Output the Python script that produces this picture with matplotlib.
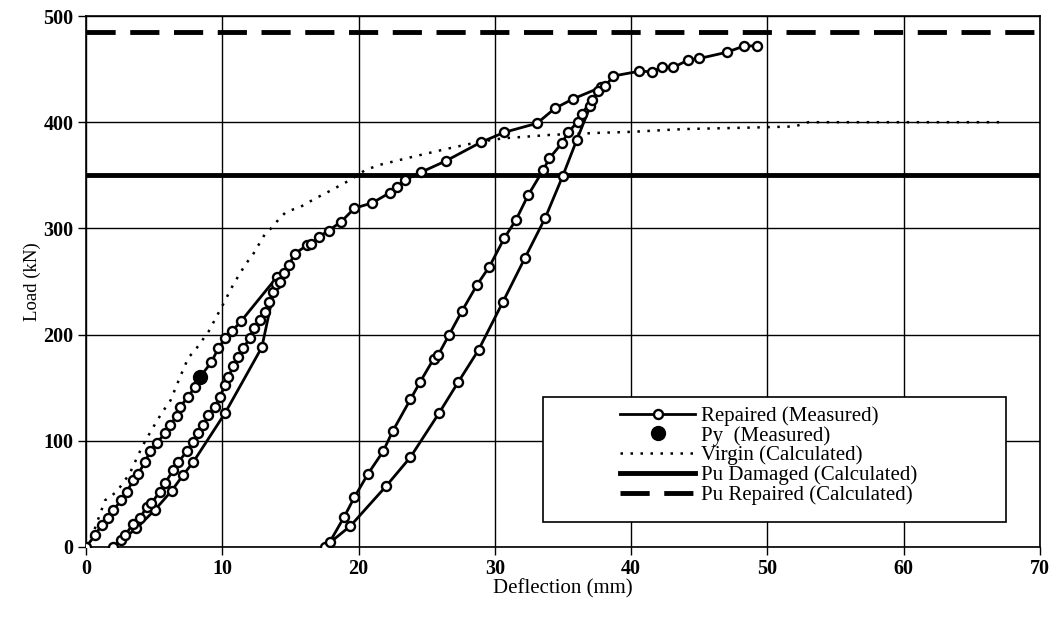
import numpy as np
import matplotlib.pyplot as plt
from matplotlib.patches import Rectangle

# repaired specimen, measured (load-unload-reload path, mm / kN)
rep_x = [0, 0.66, 1.15, 1.64, 2.0, 2.6, 3.0, 3.47, 3.84, 4.33, 4.7, 5.19, 5.8, 6.16,
         6.65, 6.9, 7.5, 8.0, 8.36, 9.2, 9.7, 10.2, 10.7, 11.4, 14.0,
         12.9, 10.2, 7.87, 7.14, 6.29, 5.06, 3.7, 2.0,
         2.6, 2.86, 3.47, 3.96, 4.45, 4.8, 5.4, 5.8, 6.4, 6.77, 7.4, 7.87, 8.24, 8.6,
         8.97, 9.46, 9.83, 10.2, 10.44, 10.8, 11.17, 11.54, 12.0, 12.3, 12.77, 13.1,
         13.45, 13.7, 13.94, 14.2, 14.5, 14.9, 15.3, 16.2, 16.5, 17.1, 17.8, 18.7,
         19.7, 21.0, 22.3, 22.8, 23.4, 24.6, 26.4, 28.96, 30.7, 33.1, 34.4, 35.75, 37.8,
         37.0, 36.0, 34.97, 33.7, 32.2, 30.6, 28.8, 27.3, 25.9, 23.8, 22.0, 19.4, 17.5,
         17.9, 18.95, 19.7, 20.7, 21.8, 22.5, 23.8, 24.5, 25.5, 25.85, 26.65, 27.6,
         28.7, 29.6, 30.7, 31.55, 32.45, 33.55, 34.0, 34.9, 35.4, 36.1, 36.4, 37.1,
         37.6, 38.1, 38.7, 40.6, 41.5, 42.3, 43.1, 44.2, 45.0, 47.0, 48.3, 49.2]
rep_y = [0, 11, 21, 27, 35, 44, 52, 63, 69, 80, 90, 98, 107, 115,
         123, 132, 141.5, 151, 160, 174, 187, 196.5, 203, 213, 254,
         188, 126, 80, 68, 53, 35, 17.6, 0,
         6.6, 11, 22, 27, 38, 41, 52, 60, 72.5, 80, 90, 99, 107, 115,
         124, 132, 141.5, 152.5, 160, 170, 179, 187, 196.5, 206, 214, 221.5,
         231, 240, 248, 250, 258, 265.5, 276, 284, 285, 292, 298, 306,
         319, 324, 333.6, 339, 345.6, 353, 363.5, 381, 390.5, 399, 413, 422, 433,
         415, 383, 349, 310, 272, 231, 185.5, 155, 126, 84.5, 57, 19.8, 0,
         5, 28.5, 47, 69, 90, 109, 139, 155, 177, 181, 200, 222.5,
         247, 264, 291, 308, 331.5, 355, 366, 380, 391, 400.5, 408, 421,
         429, 434, 443.5, 448, 447.6, 451.7, 451.7, 458.6, 460, 465.8, 471.8, 471.8]

# yield point
py_x = [8.36]
py_y = [160]

# virgin beam, calculated
vir_x = [0, 0.5, 1.0, 1.4, 2.25, 3.2, 4.1, 4.8, 5.55, 6.2, 6.9, 7.5, 8.1, 9.0, 10.1,
         10.8, 11.67, 12.3, 13.1, 13.7, 14.2, 14.7, 15.7, 16.8, 17.8, 19.3, 20.5,
         21.6, 24.0, 26.5, 28.9, 30.6, 34.0, 37.7, 40.2, 42.4, 44.1, 49.0, 52.0,
         53.0, 67.0]
vir_y = [0, 12, 30, 44, 52, 69, 94, 110, 126, 138, 160, 178, 187, 203, 229.5,
         247, 265.5, 276.5, 294, 301.6, 309.5, 315.7, 320, 328, 334.6, 345, 355,
         360, 367.5, 375, 381.6, 384.8, 388, 390, 391, 392.6, 393.6, 395, 396,
         400, 400]

pu_damaged = 350
pu_repaired = 485

serif = 'Liberation Serif'

fig = plt.figure(figsize=(10.52, 6.2), dpi=100)
ax = fig.add_axes([86/1052, 1-547/620, 954/1052, 531/620])

ax.plot(rep_x, rep_y, color='black', lw=2, marker='o', ms=6.5,
        mfc='white', mec='black', mew=1.7, label='Repaired (Measured)', zorder=4)
ax.plot(py_x, py_y, 'o', color='black', ms=10, label='Py  (Measured)', zorder=5)
ax.plot(vir_x, vir_y, color='black', lw=1.8, ls=(0, (1, 3)),
        label='Virgin (Calculated)', zorder=3)
ax.axhline(pu_damaged, color='black', lw=3.5, label='Pu Damaged (Calculated)', zorder=3)
ax.axhline(pu_repaired, color='black', lw=3.5, ls=(0, (6, 3)),
           label='Pu Repaired (Calculated)', zorder=3)

ax.set_xlim(0, 70)
ax.set_ylim(0, 500)
ax.set_xticks(np.arange(0, 71, 10))
ax.set_yticks(np.arange(0, 501, 100))
ax.grid(True, color='black', lw=1)
ax.set_axisbelow(True)
for s in ax.spines.values():
    s.set_linewidth(1.2)
ax.tick_params(direction='out', length=6, width=1, colors='black', pad=3)
for t in ax.get_xticklabels() + ax.get_yticklabels():
    t.set_fontfamily(serif)
    t.set_fontsize(14.5)
    t.set_fontweight('bold')

ax.set_xlabel('Deflection (mm)', fontfamily=serif, fontsize=15, labelpad=0)
ax.set_ylabel('Load (kN)', fontfamily=serif, fontsize=13.5, labelpad=2)

# legend box is wider than its content in the original
ax.add_patch(Rectangle((0.479, 0.047), 0.4854, 0.2355, transform=ax.transAxes,
                       facecolor='white', edgecolor='black', lw=1.2, zorder=6))
leg = ax.legend(loc='upper left', bbox_to_anchor=(0.56, 0.265), frameon=False,
                prop={'family': serif, 'size': 15}, handlelength=3.6,
                labelspacing=0.0, handletextpad=0.3, borderpad=0,
                borderaxespad=0)
leg.set_zorder(7)

fig.savefig('out.png', dpi=100)
